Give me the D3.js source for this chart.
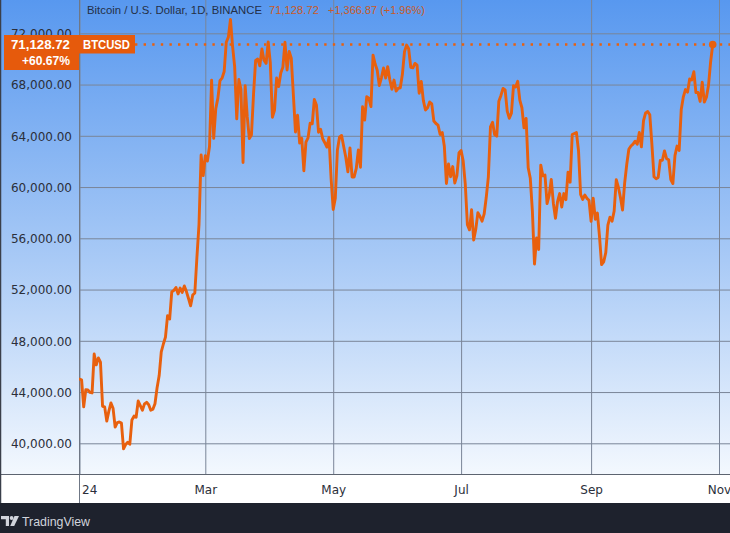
<!DOCTYPE html>
<html>
<head>
<meta charset="utf-8">
<script src="https://cdn.jsdelivr.net/npm/d3@7"></script>
<style>
  html, body { margin: 0; padding: 0; background: #ffffff; }
  svg { display: block; }
</style>
</head>
<body>
<svg id="chart" width="730" height="533"></svg>
<script>
// ---------- DATA (daily closes, BTC/USD Binance, 2024) ----------
const janClose = [45000, 44950, 42850, 44180, 44160, 43970, 43930, 46970, 46120, 46660, 46340, 42890, 42840, 41730, 42510, 43150, 42740, 41260, 41620, 41660, 41580, 39570, 39900, 40080, 39930, 41820, 42120, 42030, 43300, 42940, 42580];
const febClose = [43080, 43200, 43010, 42580, 42660, 43090, 44340, 45290, 47130, 47750, 48290, 49960, 49700, 51810, 51940, 52160, 51660, 52120, 51780, 52280, 51840, 51300, 50730, 51570, 51730, 54520, 57090, 62500, 60900];
const marClose = [62440, 62030, 63170, 68330, 63800, 66110, 66940, 68300, 68500, 69020, 71300, 71700, 73080, 71000, 69400, 65320, 68390, 67620, 61910, 67910, 65490, 63780, 64060, 67230, 69880, 69990, 69460, 70780, 69900, 69650, 71330];
const aprClose = [69700, 65450, 65980, 68510, 67840, 68900, 69360, 71300, 69140, 70590, 70060, 67200, 64300, 65600, 63430, 63810, 61270, 63510, 63840, 64990, 64940, 66840, 66410, 64280, 64500, 63770, 63460, 63120, 63870, 60670];
const mayClose = [58250, 59120, 62890, 63890, 64030, 63160, 62330, 61190, 63050, 60790, 60790, 61450, 62900, 61550, 66270, 65230, 67050, 66940, 66280, 70300, 69600, 69120, 67930, 68530, 69290, 68510, 69400, 68370, 67630, 68350, 67490];
const junClose = [67710, 67750, 68800, 70570, 71080, 70790, 69340, 69300, 69650, 69510, 67320, 68240, 66750, 66010, 66190, 66640, 66490, 65150, 64960, 64830, 64100, 64260, 63180, 60280, 61800, 60810, 61600, 60320, 60890, 62680];
const julClose = [62850, 62030, 60200, 57060, 56660, 58230, 55860, 56700, 58000, 57700, 57340, 57900, 59200, 60800, 64700, 65050, 64090, 63970, 66700, 67150, 67700, 67580, 65930, 65370, 65770, 67910, 67810, 68250, 66780, 66190, 64620];
const augClose = [65360, 61500, 60680, 58120, 53990, 56030, 55130, 61710, 60880, 60940, 58710, 59350, 60600, 58740, 57560, 58870, 59490, 58440, 59490, 59010, 61160, 60380, 64100, 64180, 64250, 62830, 59420, 59030, 59380, 59120, 58970];
const sepClose = [57320, 59130, 57490, 57970, 56160, 53950, 54160, 54880, 57020, 57650, 57340, 58130, 60570, 60000, 59180, 58210, 60310, 61760, 62950, 63200, 63350, 63580, 63340, 64260, 63140, 65180, 65790, 65890, 65640, 63330];
const octClose = [60800, 60650, 60750, 62080, 62090, 62820, 62220, 62130, 60580, 60270, 62450, 63200, 62860, 66060, 67040, 67610, 67410, 68430, 68360, 69000, 67370, 67380, 66680, 68180, 66630, 67010, 67940, 69762, 71128.72];

const monthlyCloses = [janClose, febClose, marClose, aprClose, mayClose, junClose, julClose, augClose, sepClose, octClose];

const yTickValues = [40000, 44000, 48000, 52000, 56000, 60000, 64000, 68000, 72000];
const xTickMonths = [0, 2, 4, 6, 8, 10];           // month index in 2024
const xTickLabels = ["24", "Mar", "May", "Jul", "Sep", "Nov"];

const headerTitle = "Bitcoin / U.S. Dollar, 1D, BINANCE";
const lastPriceText = "71,128.72";
const changeText = "+1,366.87 (+1.96%)";
const pctText = "+60.67%";
const symbolText = "BTCUSD";
const lastPrice = 71128.72;

// ---------- BUILD ----------
const data = [];
monthlyCloses.forEach((arr, m) => arr.forEach((v, i) => data.push({ date: new Date(Date.UTC(2024, m, i + 1)), value: v })));

const W = 730, H = 533;
const plotLeft = 79, plotRight = 730, plotTop = 0, plotBottom = 474, axisBottom = 503;

const svg = d3.select("#chart");
const x = d3.scaleUtc().domain([new Date(Date.UTC(2024, 0, 1)), new Date(Date.UTC(2024, 10, 1))]).range([79.5, 719]);
const y = d3.scaleLinear().domain([40000, 72000]).range([443.3, 33.3]);

const defs = svg.append("defs");
const grad = defs.append("linearGradient").attr("id", "bg").attr("x1", 0).attr("y1", 0).attr("x2", 0).attr("y2", plotBottom).attr("gradientUnits", "userSpaceOnUse");
grad.append("stop").attr("offset", "0%").attr("stop-color", "#5898ef");
grad.append("stop").attr("offset", "55%").attr("stop-color", "#a9caf6");
grad.append("stop").attr("offset", "100%").attr("stop-color", "#f3f8fe");
defs.append("clipPath").attr("id", "plotClip").append("rect")
  .attr("x", plotLeft).attr("y", plotTop).attr("width", plotRight - plotLeft).attr("height", plotBottom - plotTop);

// backgrounds
svg.append("rect").attr("x", 0).attr("y", 0).attr("width", W).attr("height", plotBottom).attr("fill", "url(#bg)");
svg.append("rect").attr("x", 0).attr("y", plotBottom).attr("width", W).attr("height", axisBottom - plotBottom).attr("fill", "#ffffff");
svg.append("rect").attr("x", 0).attr("y", axisBottom).attr("width", W).attr("height", H - axisBottom).attr("fill", "#1e222d");

const gridColor = "#7a8598";
// horizontal grid via y axis
const yGrid = svg.append("g").attr("transform", `translate(${plotLeft},0)`)
  .call(d3.axisRight(y).tickValues(yTickValues).tickSize(plotRight - plotLeft).tickFormat(""));
yGrid.select(".domain").remove();
yGrid.selectAll(".tick line").attr("stroke", gridColor).attr("stroke-width", 1);

// vertical grid via x axis
const xTickDates = xTickMonths.map(m => new Date(Date.UTC(2024, m, 1)));
const xGrid = svg.append("g").attr("transform", `translate(0,${plotBottom})`)
  .call(d3.axisTop(x).tickValues(xTickDates).tickSize(plotBottom - plotTop).tickFormat(""));
xGrid.select(".domain").remove();
xGrid.selectAll(".tick line").attr("stroke", gridColor).attr("stroke-width", 1);

// panel borders
svg.append("line").attr("x1", 79.5).attr("x2", 79.5).attr("y1", 0).attr("y2", axisBottom).attr("stroke", "#6f7785").attr("stroke-width", 1);
svg.append("line").attr("x1", 0).attr("x2", W).attr("y1", plotBottom + 0.5).attr("y2", plotBottom + 0.5).attr("stroke", "#5d6470").attr("stroke-width", 1);
svg.append("line").attr("x1", 0.5).attr("x2", 0.5).attr("y1", 0).attr("y2", axisBottom).attr("stroke", "#3a3f4a").attr("stroke-width", 1.5);

// y axis labels
const yAxis = svg.append("g").attr("transform", "translate(72,0)")
  .call(d3.axisLeft(y).tickValues(yTickValues).tickSize(0).tickPadding(0).tickFormat(d3.format(",.2f")));
yAxis.select(".domain").remove();
yAxis.selectAll("text").attr("font-family", "DejaVu Sans").attr("font-size", 12).attr("fill", "#2b2f3a").attr("dy", "0.35em");

// x axis labels
const xAxis = svg.append("g").attr("transform", `translate(0,${plotBottom})`)
  .call(d3.axisBottom(x).tickValues(xTickDates).tickSize(0).tickPadding(0).tickFormat((d, i) => xTickLabels[i]));
xAxis.select(".domain").remove();
xAxis.selectAll("text").attr("font-family", "DejaVu Sans").attr("font-size", 12).attr("fill", "#2b2f3a").attr("y", 19.5).attr("dy", 0);
xAxis.selectAll(".tick").filter((d, i) => i === 0).select("text").attr("text-anchor", "start").attr("dx", 2);

// price line
const line = d3.line().x(d => x(d.date)).y(d => y(d.value));
const plot = svg.append("g").attr("clip-path", "url(#plotClip)");
const lastPt = data[data.length - 1];
plot.append("line").attr("x1", 135).attr("x2", plotRight).attr("y1", y(lastPrice)).attr("y2", y(lastPrice))
  .attr("stroke", "#e8600e").attr("stroke-width", 2.4).attr("stroke-dasharray", "2.4,6.2");
plot.append("path").datum(data).attr("d", line).attr("fill", "none").attr("stroke", "#e8600e")
  .attr("stroke-width", 2.9).attr("stroke-linejoin", "round").attr("stroke-linecap", "round");
plot.append("circle").attr("cx", x(lastPt.date)).attr("cy", y(lastPt.value)).attr("r", 3.8).attr("fill", "#e8600e");

// header
function fitText(sel, width) { sel.attr("textLength", width).attr("lengthAdjust", "spacingAndGlyphs"); return sel; }
fitText(svg.append("text").attr("x", 87).attr("y", 14).attr("font-family", "Liberation Sans").attr("font-size", 11.5)
  .attr("fill", "#243047").text(headerTitle), 175);
fitText(svg.append("text").attr("x", 269).attr("y", 14).attr("font-family", "Liberation Sans").attr("font-size", 11.5)
  .attr("fill", "#c95a27").text(lastPriceText), 50);
fitText(svg.append("text").attr("x", 328).attr("y", 14).attr("font-family", "Liberation Sans").attr("font-size", 11.5)
  .attr("fill", "#c95a27").text(changeText), 97);

// price label box
svg.append("rect").attr("x", 4).attr("y", 35).attr("width", 75).attr("height", 35).attr("fill", "#e65a0c");
fitText(svg.append("text").attr("x", 70).attr("y", 48.5).attr("text-anchor", "end").attr("font-family", "Liberation Sans")
  .attr("font-weight", "bold").attr("font-size", 13).attr("fill", "#ffffff").text(lastPriceText), 59);
fitText(svg.append("text").attr("x", 70).attr("y", 65).attr("text-anchor", "end").attr("font-family", "Liberation Sans")
  .attr("font-weight", "bold").attr("font-size", 13).attr("fill", "#ffffff").text(pctText), 48);

// symbol box
svg.append("rect").attr("x", 79).attr("y", 35).attr("width", 56).attr("height", 18.5).attr("fill", "#e65a0c");
fitText(svg.append("text").attr("x", 83).attr("y", 48.5).attr("font-family", "Liberation Sans")
  .attr("font-weight", "bold").attr("font-size", 12).attr("fill", "#ffffff").text(symbolText), 47);

// footer logo + text
const logo = svg.append("g").attr("fill", "#d1d4dc");
logo.append("path").attr("d", "M1,516 h8 v10 h-3.2 v-6.8 h-4.8 z");
logo.append("circle").attr("cx", 11.6).attr("cy", 518).attr("r", 1.9);
logo.append("path").attr("d", "M14.5,516 h4.5 l-4.8,10 h-4 z");
fitText(svg.append("text").attr("x", 22).attr("y", 526).attr("font-family", "Liberation Sans").attr("font-size", 13)
  .attr("fill", "#d1d4dc").text("TradingView"), 68);
</script>
</body>
</html>
